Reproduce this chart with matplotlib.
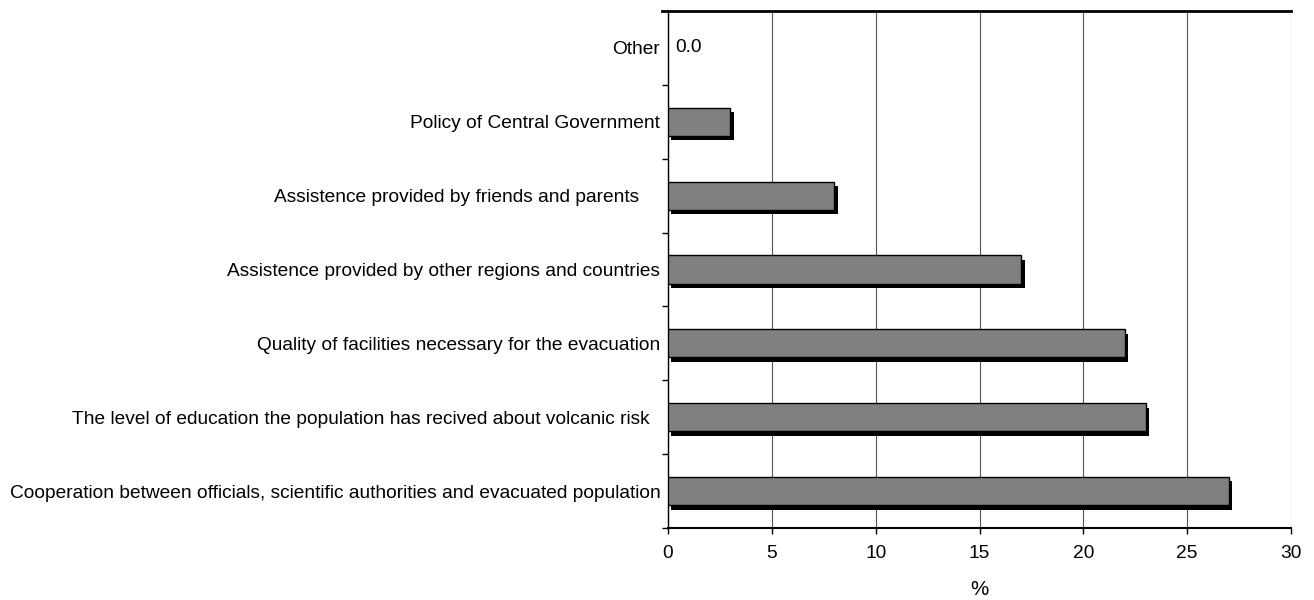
import matplotlib
matplotlib.use("Agg")
import matplotlib.pyplot as plt
import matplotlib.patheffects as pe
import numpy as np

categories = [
    "Cooperation between officials, scientific authorities and evacuated population",
    "The level of education the population has recived about volcanic risk  ",
    "Quality of facilities necessary for the evacuation",
    "Assistence provided by other regions and countries",
    "Assistence provided by friends and parents    ",
    "Policy of Central Government",
    "Other",
]
values = [27, 23, 22, 17, 8, 3, 0]
xticks = [0, 5, 10, 15, 20, 25, 30]

FS = 13.8
plt.rcParams['font.family'] = ['Liberation Sans', 'DejaVu Sans']
fig = plt.figure(figsize=(13.14, 6), dpi=100)
ax = fig.add_axes([668/1314, 72/600, (1291-668)/1314, (528-11)/600])

y = np.arange(len(categories))
bars = ax.barh(y, values, height=0.38, color='#808080', edgecolor='black', linewidth=1.0, zorder=3)
for b, v in zip(bars, values):
    if v > 0:
        b.set_path_effects([pe.SimplePatchShadow(offset=(2.5, -3.2), shadow_rgbFace='black', alpha=1.0), pe.Normal()])
    else:
        b.set_visible(False)

for yi, v in zip(y, values):
    if v == 0:
        ax.text(v + 0.35, yi, f"{v:.1f}", va='center', ha='left', fontsize=FS)

ax.set_xlim(0, 30)
ax.set_ylim(-0.5, len(categories) - 0.5)
ax.set_xticks(xticks)
ax.set_xticklabels([str(t) for t in xticks], fontsize=FS)
ax.set_yticks(y)
ax.set_yticklabels(categories, fontsize=FS)
ax.tick_params(axis='y', which='major', length=0, pad=5.5)
ax.set_yticks(np.arange(-0.5, len(categories), 1.0), minor=True)
ax.tick_params(axis='y', which='minor', length=4.5, width=1.0, direction='out')
ax.tick_params(axis='x', which='major', length=4.5, width=1.0, direction='out', pad=8)

ax.xaxis.grid(True, color='#555555', linewidth=0.8, zorder=0)
ax.set_axisbelow(True)
ax.spines['right'].set_visible(False)
ax.spines['top'].set_linewidth(2.0)
ax.spines['left'].set_linewidth(1.0)
ax.spines['bottom'].set_linewidth(1.5)
ax.spines['top'].set_bounds(-0.27, 30)
ax.set_xlabel('%', fontsize=FS + 1, labelpad=13)

fig.savefig("out.png", dpi=100)
